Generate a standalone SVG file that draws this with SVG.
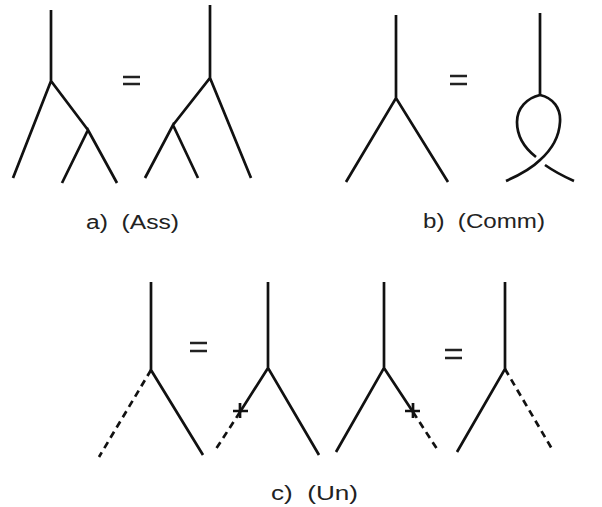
<svg xmlns="http://www.w3.org/2000/svg" width="602" height="507" viewBox="0 0 602 507">
<style>
.s{fill:none;stroke:#111;stroke-width:2.7;stroke-linecap:butt;stroke-linejoin:miter}
.d{fill:none;stroke:#111;stroke-width:2.7;stroke-dasharray:7 5}
.eq{stroke:#222;stroke-width:2.6}
.t{font-family:"Liberation Sans",Arial,sans-serif;font-size:20px;fill:#222;white-space:pre}
</style>
<rect width="602" height="507" fill="#fff"/>
<g id="ass">
  <g id="ass-left">
    <path class="s" d="M51,10 L51,81 M13,178 L51,81 L88,130 M62,183 L88,130 L117,183"/>
  </g>
  <g id="ass-eq"><path class="eq" d="M123,77 H140 M123,84 H140"/></g>
  <g id="ass-right">
    <path class="s" d="M210,5 L210,78 M251,178 L210,78 L173,125 M145,178 L173,125 L198,178"/>
  </g>
  <text class="t" xml:space="preserve" x="86" y="229" textLength="93" lengthAdjust="spacingAndGlyphs">a)  (Ass)</text>
</g>
<g id="comm">
  <g id="comm-left">
    <path class="s" d="M396,15 L396,98 M346,182 L396,98 L448,182"/>
  </g>
  <g id="comm-eq"><path class="eq" d="M450,76 H467 M450,84 H467"/></g>
  <g id="comm-right">
    <path class="s" d="M540,13 L540,95"/>
    <path class="s" d="M540,95 C553,98 561,108 560,122 C559,140 549,152 540,160 C530,170 515,177 506,181"/>
    <path class="s" d="M540,95 C527,98 517,108 517,122 C517,138 527,150 536,157 M545,165 C555,172 565,177 574,181"/>
  </g>
  <text class="t" xml:space="preserve" x="423" y="228" textLength="122" lengthAdjust="spacingAndGlyphs">b)  (Comm)</text>
</g>
<g id="un">
  <g id="un-1">
    <path class="s" d="M151,282 L151,370 L203,455"/>
    <path class="d" d="M151,370 L99,457"/>
  </g>
  <g id="un-eq1"><path class="eq" d="M190,343 H207 M190,351 H207"/></g>
  <g id="un-2">
    <path class="s" d="M268,282 L268,368 L319,455 M268,368 L240,412"/>
    <path class="d" d="M240,412 L214,452"/>
    <path class="s" d="M233,411 H248 M240,403 V418"/>
  </g>
  <g id="un-3">
    <path class="s" d="M384,282 L384,368 L336,452 M384,368 L413,412"/>
    <path class="d" d="M413,412 L439,452"/>
    <path class="s" d="M405,411 H420 M413,403 V418"/>
  </g>
  <g id="un-eq2"><path class="eq" d="M445,350 H462 M445,358 H462"/></g>
  <g id="un-4">
    <path class="s" d="M505,282 L505,369 L457,452"/>
    <path class="d" d="M505,369 L552,449"/>
  </g>
  <text class="t" xml:space="preserve" x="271" y="500" textLength="87" lengthAdjust="spacingAndGlyphs">c)  (Un)</text>
</g>
</svg>
